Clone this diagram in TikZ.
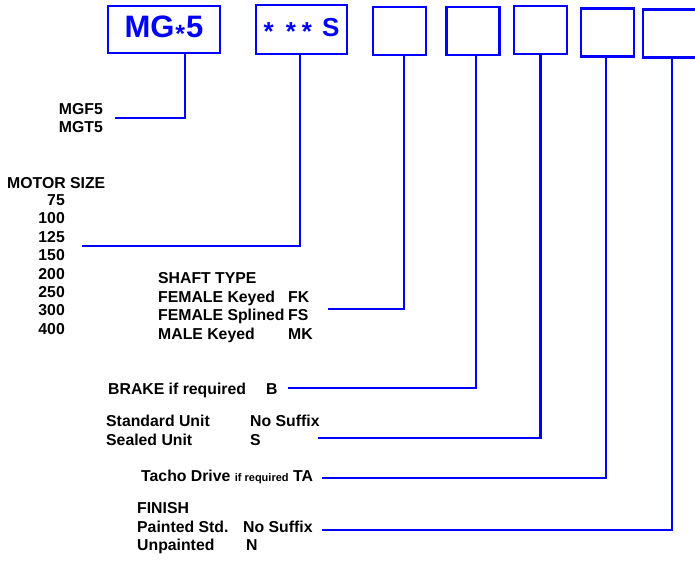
\documentclass[tikz,border=0pt]{standalone}
\usepackage{fontspec}
\setmainfont{Liberation Sans}
\usepackage{tikz}
\usetikzlibrary{calc}
\definecolor{codeblue}{HTML}{0000FF}
\newcommand{\lbl}{\fontsize{15.8}{18.4}\selectfont\bfseries}
\tikzset{
  codebox/.style={draw=codeblue,line width=2.8pt,inner sep=0pt,minimum width=53pt,
    minimum height=48pt,text=codeblue,font=\fontsize{26}{26}\selectfont\bfseries},
  lead/.style={draw=codeblue,line width=2.3pt},
  legend/.style={inner sep=0pt,font=\lbl},
  legendr/.style={legend,align=right,anchor=north east},
  legendl/.style={legend,align=left,anchor=north west},
  legendt/.style={legend,anchor=north west},
}

\begin{document}
\begin{tikzpicture}[x=1pt,y=-1pt]
  \useasboundingbox (0,0) rectangle (695,560);
  % --- the code boxes ---
  \node[codebox,minimum width=112pt,minimum height=47pt,
    font=\fontsize{31}{31}\selectfont\bfseries] (bseries) at (164,29.5)
    {MG\hspace{1pt}{\fontsize{25}{25}\selectfont\raisebox{-5pt}{*}}\hspace{1pt}5};
  \node[codebox,minimum width=91pt,minimum height=49pt] (bsize) at (301.5,29.5)
    {\raisebox{-4pt}{*}\hspace{12pt}\raisebox{-4pt}{*}\hspace{6pt}\raisebox{-4pt}{*}\hspace{10pt}S};
  \node[codebox] (bshaft)  at (399.5,31)   {};
  \node[codebox] (bbrake)  at (473,31)     {};
  \node[codebox] (bunit)   at (540.5,30)   {};
  \node[codebox] (btacho)  at (607.5,32.5) {};
  \node[codebox,minimum width=54pt] (bfinish) at (670,33.5) {};

  % --- the legends ---
  \node[legendr] (tseries) at (103,103.2) {MGF5\\MGT5};
  \node[legendl] (tmotor) at (7,177.4) {MOTOR SIZE};
  \node[legendr] (tsize) at (65,194.4) {75\\100\\125\\150\\200\\250\\300\\400};
  \node[legendt] (tshaft) at (158,270.8) {\begin{tabular}{@{}p{130pt}@{}l@{}}
    SHAFT TYPE\\ FEMALE Keyed & FK\\ FEMALE Splined & FS\\ MALE Keyed & MK
  \end{tabular}};
  \node[legendt] (tbrake) at (108,383.1) {BRAKE if required\hspace{20pt}B};
  \node[legendt] (tunit) at (106,413.8) {\begin{tabular}{@{}p{144pt}@{}l@{}}
    Standard Unit & No Suffix\\ Sealed Unit & S
  \end{tabular}};
  \node[legendt] (ttacho) at (141,470.1)
    {Tacho Drive {\fontsize{11}{11}\selectfont if required} TA};
  \node[legendt] (tfinish) at (137,500.8) {\begin{tabular}{@{}p{106pt}@{}l@{}}
    FINISH\\ Painted Std. & No Suffix\\ Unpainted & \hspace{3pt}N
  \end{tabular}};

  % --- leads from each box to its legend ---
  \coordinate (eseries) at (115,118);
  \coordinate (esize)   at (82,246);
  \coordinate (eshaft)  at (328,309);
  \coordinate (ebrake)  at (288,388);
  \coordinate (eunit)   at (318,438);
  \coordinate (etacho)  at (322,478);
  \coordinate (efinish) at (322,530);
  \draw[lead] ([xshift=21pt]bseries.south) |- (eseries);
  \draw[lead] ([xshift=-1.5pt]bsize.south) |- (esize);
  \draw[lead] ([xshift=4.5pt]bshaft.south) |- (eshaft);
  \draw[lead] ([xshift=3pt]bbrake.south) |- (ebrake);
  \draw[lead] (bunit.south) |- (eunit);
  \draw[lead] ([xshift=-1.5pt]btacho.south) |- (etacho);
  \draw[lead] ([xshift=2pt]bfinish.south) |- (efinish);
\end{tikzpicture}
\end{document}
